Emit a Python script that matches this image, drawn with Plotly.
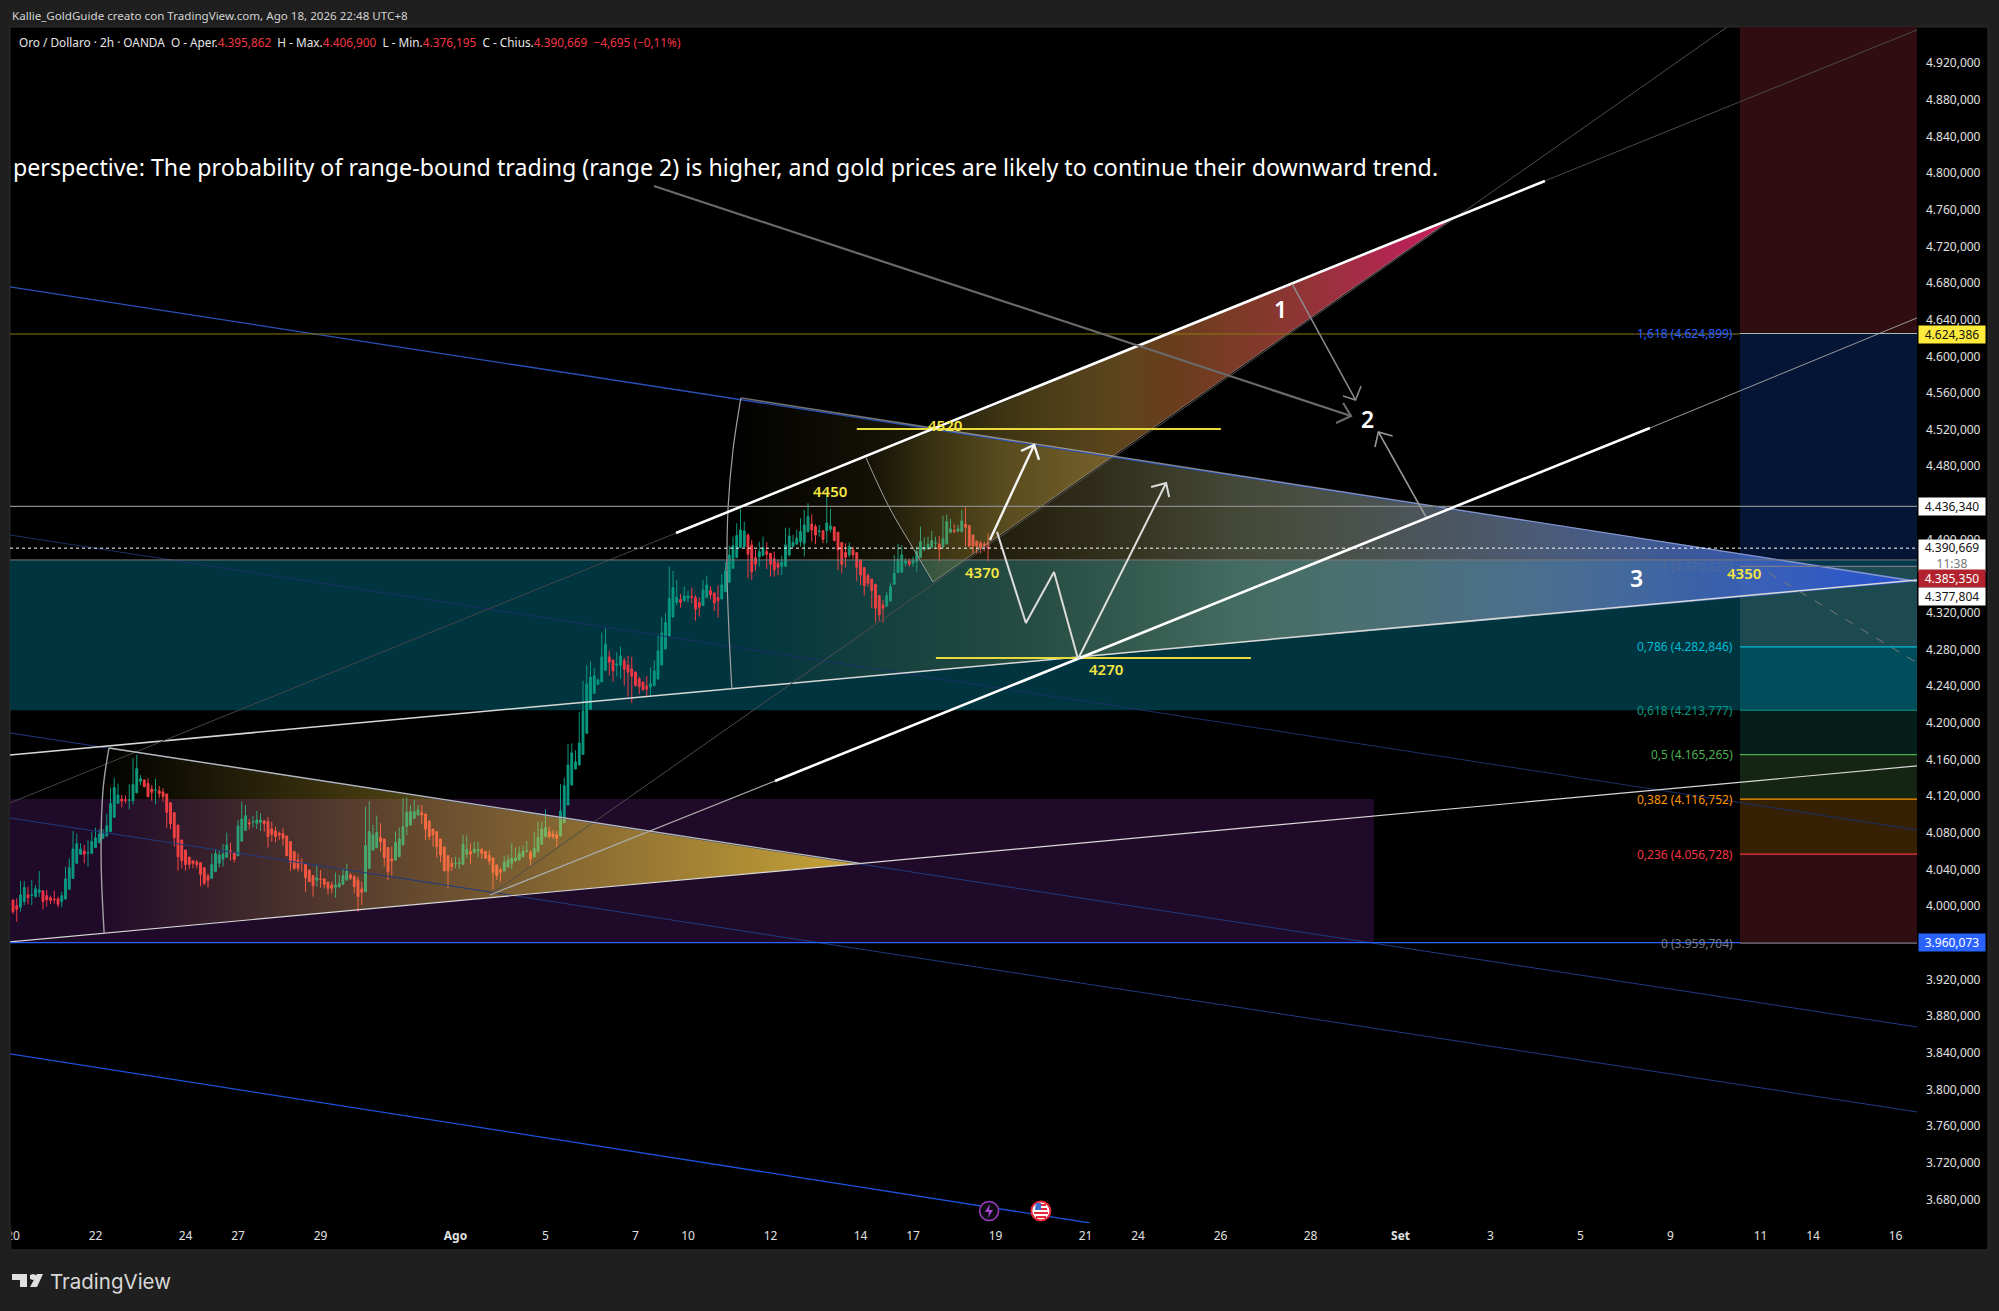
import plotly.graph_objects as go

# ---------- candle data (2h bars, prices) ----------
opens = [
4006.7,4000.5,3998.7,4004.9,4012.2,4011.8,4010.7,4015,4016.5,4011.4,
4009.2,4007.8,4007.8,4004.9,4007.8,4018.3,4030.3,4046.7,4056.5,4060.2,
4057.6,4057.6,4064,4069.3,4074,4076.5,4081.3,4096.9,4112.2,4116.9,
4116.2,4115.5,4115.1,4123.8,4136.2,4137.7,4134,4127.8,4126.4,4125.7,
4124.6,4122.4,4112.9,4102,4088.5,4072.2,4061.3,4053.6,4049.3,4048.2,
4047.4,4042,4032.9,4030.3,4037.6,4046.7,4051.4,4053.3,4060.5,4058.7,
4055,4071,4082.7,4091.1,4091.8,4090.4,4091.5,4092.9,4092.2,4084.2,
4082,4079.5,4079.1,4076.6,4070.4,4059.5,4050.4,4047.5,4045.7,4039.5,
4033.3,4028.2,4029.7,4029.7,4026,4023.1,4020.6,4021.3,4023.8,4028.6,
4034,4032.2,4028.6,4018.8,4015.8,4041.3,4061.3,4063.9,4074.8,4073.3,
4063.9,4051.5,4050.4,4054,4066.8,4086.8,4088.6,4095.9,4099.5,4102,
4100.6,4093,4084.2,4081.3,4073.3,4064.6,4055.1,4046.8,4046.4,4046.4,
4045.7,4056.6,4059.5,4058.4,4060.2,4061.7,4059.5,4055.8,4052.6,4045,
4039.5,4038.4,4042.8,4046.8,4049.3,4050.4,4054,4059.5,4058.4,4054,
4059.5,4067.5,4075.9,4081.3,4079,4077.7,4076.6,4091,4110.4,4132.3,
4149.7,4154,4165.7,4188.6,4214.8,4232.3,4242.1,4244.7,4257.4,4272,
4268.7,4262.9,4262.9,4267.9,4263.2,4258.9,4255.6,4248,4244.7,4240.3,
4239.2,4240.7,4248,4263.2,4280.7,4294.9,4315.6,4331.6,4334.5,4333.4,
4336,4337.8,4336.7,4331.3,4328,4337,4344.3,4341.8,4336.7,4335.3,
4343.2,4353.4,4368.7,4380.3,4391.3,4392,4405,4394.2,4380.3,4381,
4382.5,4386.9,4385,4379,4374.2,4370.9,4370.9,4383.3,4392.4,4395,
4397.8,4396,4408.7,4417,4414.2,4408.7,4409.5,4409.5,4411.3,4413.8,
4408,4396.7,4385.8,4383.3,4388.7,4385.8,4377.8,4369.5,4360.7,4357,
4351.3,4338.9,4328.7,4327.3,4333,4351.3,4364,4364.4,4374.2,4376.7,
4374.2,4376,4380.7,4389.5,4389.8,4391.6,4396,4395.3,4392,4395.3,
4408,4409.8,4409.5,4408.7,4416.7,4415.3,4405,4398.5,4396,4395,4395.9]
highs = [
4006.7,4008.5,4027.4,4027.4,4021.2,4028.5,4023,4038.3,4017.6,4017.6,
4011.4,4016.9,4010.3,4015.8,4043,4052,4082,4079,4068.5,4066.7,
4072,4081,4085.6,4084,4084,4100.6,4129.3,4140.2,4133.7,4121.3,
4120.6,4133,4161.3,4165,4143,4137.7,4139.5,4132.2,4138.8,4131.1,
4128.6,4122.4,4112.9,4102,4088.5,4072.2,4061.3,4053.6,4050.4,4050.4,
4047.4,4042,4035.8,4057.6,4062.4,4061.3,4067.8,4080.2,4069.3,4058.7,
4094,4114,4110.4,4095,4098.7,4103.8,4101.3,4094,4097.3,4092.2,
4086.8,4081.3,4085,4076.6,4070.4,4059.5,4057.7,4052.2,4045.7,4039.5,
4033.3,4045,4039.5,4029.7,4026,4026.7,4036.6,4034,4041.3,4046.4,
4036.2,4034,4032.2,4026.7,4108.6,4114.8,4088.6,4098.8,4090.4,4073.3,
4063.9,4065,4081.3,4085.7,4117.7,4118.4,4110.4,4116.2,4110.4,4110.4,
4100.6,4093,4084.2,4081.3,4073.3,4064.6,4055.1,4053,4054,4053,
4077.7,4077,4068.6,4070.4,4070.4,4063.9,4060.2,4061.3,4052.6,4045,
4042,4055,4055.8,4068.6,4063.9,4065,4066,4071,4061.3,4081.3,
4092.2,4092.2,4105.7,4086.8,4083,4082,4133,4140.3,4177,4177.7,
4170,4212,4245.8,4263,4266.9,4259.6,4248.7,4298.5,4303.2,4278.9,
4268.7,4277,4283.2,4271.2,4273.4,4272,4255.6,4250.5,4245,4251.2,
4260.3,4268,4296,4315.2,4319.2,4370.5,4365.8,4356,4340.7,4348.7,
4344,4347.6,4339.6,4336.7,4356,4360.7,4348.7,4341.8,4349.8,4362.5,
4375,4393.4,4403.3,4417.8,4433.5,4419.6,4406.9,4399.6,4388.7,4397.8,
4403.3,4397,4385,4387,4377.8,4382.5,4413,4413,4405,4410.6,
4423.3,4432.4,4439.7,4427.7,4416.7,4416,4410.6,4448,4433.5,4413.8,
4408.7,4396.7,4396,4397,4392.4,4385.8,4377.8,4369.5,4363,4357,
4351.3,4338.9,4334,4343,4352.4,4383.3,4395.3,4394,4379.6,4379.6,
4381.5,4392.4,4414.2,4402.6,4403.3,4409.5,4403.3,4404,4426.2,4427.7,
4422.6,4416.7,4416,4432.4,4435.3,4415.8,4405.5,4398.5,4398.5,4397.8,4406.9]
lows = [
3991.4,3983,3994,4001.2,4002,4000.9,4009,4010,3996.5,3999.4,
4002,4002.7,3998.7,3998.7,4007.4,4017.6,4029.6,4046,4055.8,4046.7,
4043,4057,4063.8,4068.5,4073,4075.8,4081.3,4096.5,4111.8,4107.8,
4112.2,4105.6,4111,4123,4132.2,4129.7,4118.7,4115,4111,4117.7,
4114,4085.6,4084,4064.9,4038.7,4041.3,4038.7,4040.5,4041.3,4041.3,
4021.6,4023,4020.2,4029.6,4037.6,4042,4043,4052.9,4049.6,4047.4,
4054.7,4070.4,4082,4083.5,4085.6,4084.2,4082,4081.3,4063.8,4070.4,
4069.7,4072.2,4066,4055,4038.4,4039.5,4037.7,4037.7,4015.8,4026.7,
4010.4,4021.3,4020.2,4019.5,4012.9,4014,4009.3,4019.5,4023,4027.5,
4028.6,4014,3994,4001.3,4015.8,4040.6,4060.6,4063.1,4059.5,4043.1,
4028.6,4033.3,4049.3,4053.3,4066,4077.7,4087.9,4095.1,4098.8,4089.3,
4072.2,4072.2,4065,4053,4047.8,4037.7,4019.5,4038.4,4041.3,4040.6,
4045.7,4052.2,4045.7,4057.7,4053,4051.5,4051.5,4045,4018.8,4028.6,
4026.7,4038,4042,4040.6,4048.6,4049.7,4053,4059,4044.2,4053,
4058.8,4066.8,4075,4074,4073.3,4063.9,4075.9,4091,4109.7,4131.5,
4149,4153.4,4165,4188,4214,4231.6,4241.8,4244.3,4256.7,4251.6,
4245,4250.5,4248,4240.7,4228.7,4222,4239.6,4231.2,4234.8,4228.7,
4229.8,4239.6,4247.2,4262.5,4280,4294,4314.9,4328,4325.8,4332.3,
4331.6,4330.5,4311.6,4316,4327.6,4336.7,4335,4322,4314.9,4335,
4342.8,4353,4368.7,4380.3,4390.5,4392,4357.8,4356,4366.2,4370.5,
4382,4368,4359.6,4359.6,4361.4,4361.4,4370.5,4381.5,4391.5,4394.9,
4392.4,4381.5,4408,4397.8,4395,4403.3,4396,4396,4408,4398.5,
4366.9,4363.3,4369.5,4380.4,4379,4355,4350.5,4339,4348.7,4325,
4309.4,4311.2,4309.4,4327,4332.4,4350.5,4363.3,4363.3,4370.5,4370.5,
4370.5,4365,4380.3,4387,4388.7,4390.5,4391,4376,4391,4394.9,
4407,4407,4408,4407.6,4392.4,4391,4385,4384.4,4385,4387,4376.2]
closes = [
3994,3996.5,4012.2,4020.2,4009.2,4012.2,4019,4017.6,4004.9,4007,
4006.3,4007,4002,4011.4,4029.6,4042,4062.4,4068.2,4062.4,4056.5,
4058.4,4070.4,4074.4,4078.7,4078.7,4087.8,4111.8,4129.3,4121.3,4114.7,
4115.5,4115.8,4132.6,4150,4139.1,4130.4,4119.5,4124.2,4126.7,4123.1,
4119.5,4102.4,4090,4074.7,4054,4049.6,4045.3,4045.6,4046.7,4045.3,
4034.7,4024.9,4028.2,4045.3,4057.3,4055.8,4056.9,4066.7,4058.7,4051,
4087.5,4095,4098.7,4089.6,4092.2,4094,4094,4090,4075.8,4078.4,
4075.9,4077.7,4074,4055,4047.8,4041.3,4041.3,4046.8,4031,4026.7,
4022.4,4030.8,4029.3,4023.8,4019.5,4019.5,4023.1,4025,4033.3,4038.4,
4030.4,4021.3,4010.4,4015.1,4066,4081.3,4077.7,4080.2,4070.4,4053,
4037.7,4049.3,4069.3,4073.3,4086.8,4102,4103.1,4103.1,4105,4099.5,
4083.9,4075.9,4077.7,4065,4055.8,4038.8,4038.4,4043.1,4046.8,4047.1,
4067.5,4062,4056.6,4062,4061.7,4057.7,4052.2,4049.3,4036.9,4033.3,
4036.9,4047.8,4050.4,4052.2,4052.6,4057.7,4060.2,4060.2,4051.5,4063.1,
4075.1,4084.2,4085.7,4075.9,4075.9,4074,4103.9,4131.5,4154,4167.2,
4157.4,4178,4213,4242.5,4250,4251.2,4246.9,4272,4286.1,4266.1,
4256.7,4264.3,4273,4258.5,4255.2,4250.9,4240.7,4239.6,4236.3,4236.7,
4242.8,4256.7,4278.5,4298.1,4309.4,4335.6,4347.6,4337,4331.6,4338.5,
4338.5,4337,4324,4326.2,4345,4350.5,4339.6,4330.9,4333.4,4350.5,
4365.8,4383.2,4393.4,4404.4,4410.5,4409.4,4384,4365,4373,4386.9,
4391.3,4384,4373,4366.9,4369.8,4375.2,4394.2,4404,4396.7,4401.5,
4408.7,4416,4425.1,4410.6,4405,4409.5,4400.4,4418.2,4414.9,4398.9,
4388.7,4373,4380.7,4392.4,4383.3,4369.8,4361.4,4349.8,4352.3,4344.4,
4325,4317.8,4325,4338.9,4348.7,4363.3,4378.5,4383.3,4376.7,4373,
4377.8,4387,4397.8,4391.3,4395,4399,4396.7,4389.5,4400.7,4419.7,
4411.7,4409,4411.7,4420.4,4413.5,4393,4393,4393,4391.3,4393.5,4390.7]
bars = list(range(len(closes)))

# ---------- axes ----------
x_tick_bars = [0,22,46,60,82,118,142,166,180,202,226,240,262,286,300,322,346,370,394,418,442,466,480,502]
x_tick_text = ["20","22","24","27","29","<b>Ago</b>","5","7","10","12","14","17","19","21","24","26","28","<b>Set</b>","3","5","9","11","14","16"]
# 4360 is entirely covered by the price tags in the reference, so it is not drawn
y_ticks = [v for v in range(3680, 4921, 40) if v != 4360]
y_tick_text = [f"{v//1000}.{v%1000:03d},000" for v in y_ticks]
X_MIN, X_MAX = -0.8, 507.73
Y_MIN, Y_MAX = 3654.2, 4959.4

# ---------- Fibonacci levels ----------
fib_ratio = ["1,618","1","0,786","0,618","0,5","0,382","0,236","0"]
fib_price = [4624.899,4370.826,4282.846,4213.777,4165.265,4116.752,4056.728,3959.704]
fib_label_color = ["#2962ff","rgba(120,123,134,0.35)","#00bcd4","#089981","#4caf50","#ff9800","#f23645","#787b86"]
fib_line_color = ["#9fc0b8","#787b86","#00bcd4","#089981","#4caf50","#ff9800","#f23645","#787b86"]
fib_band_color = ["#051535","#1c4a50","#004d5b","#061e1a","#142613","#362003","#300d10"]
FIB_X0 = 460.5

# ---------- drawings: bar index / price ----------
blue_lines = [
    ([-0.8,507.73],[4675.7,4354.8],"#2a50b8",1.3),
    ([-0.8,507.73],[4405.0,4083.1],"#1a3068",1),
    ([-0.8,507.73],[4189.0,3868.1],"#1e3a80",1),
    ([-0.8,507.73],[4096.2,3775.4],"#1e3a80",1),
    ([-0.8,287.2],[3838.7,3654.2],"#1c50d8",1.3),
]
small_tri_x = [25.6,24,23.5,24.3,225.9]
small_tri_y = [4172.6,4126.8,4050.4,3970.7,4046.6]
big_tri_x = [194.1,192,190.7,190.4,190.9,191.7,507.73]
big_tri_y = [4554.6,4497.8,4435.6,4366.9,4301.4,4237,4354.3]
wedge_x = [227.5,233.6,240.3,245.3,383.2]
wedge_y = [4489.1,4435.6,4388.7,4353.8,4748.8]

thin_lines = [
    ([-0.8,507.73],[3960.9,4153],"#d8d8d8",1.2),
    ([-0.8,507.73],[4165,4355.9],"#d8d8d8",1.5),
    ([-0.8,176.8],[4112.6,4407.2],"#444444",1),
    ([408.5,507.73],[4791.4,4956.2],"#4a4a4a",1),
    ([127.2,457.1],[4012.2,4959.4],"#4d4d4d",1),
    ([127.2,203.2],[4012.2,4136.6],"#aaaaaa",1.2),
    ([436.5,507.73],[4521.8,4641.9],"#9a9a9a",1),
    ([25.6,225.9],[4172.6,4046.6],"#b8b8b8",1.4),
    ([194.1,507.73],[4554.6,4354.3],"rgba(210,210,210,0.55)",1.4),
    ([245.3,383.2],[4353.8,4748.8],"rgba(210,200,190,0.45)",1),
]
arc_lines = [
    (small_tri_x[:4],small_tri_y[:4],"#a0a0a0",1.4),
    (big_tri_x[:6],big_tri_y[:6],"#a0a0a0",1.2),
    (wedge_x[:4],wedge_y[:4],"#a0a0a0",1),
]
thick_lines = [
    ([176.8,408.5],[4407.2,4791.4],"#ffffff",2.6),
    ([203.2,436.5],[4136.6,4521.8],"#ffffff",2.6),
]
arrows = [
    ([260.5,272.3],[4399.6,4503.3],[268.8,272.3,273.6],[4496.7,4503.3,4486.9],"#f4f4f4",2.4),
    ([262.4,270.1,277.6,284,307.5],[4408.4,4309,4364.7,4269.7,4461.8],[303.5,307.5,308.3],[4457.4,4461.8,4446.5],"#dcdcdc",2),
    ([170.9,356.8],[4785.9,4534.9],[354.7,356.8,352.8],[4549.1,4534.9,4527.3],"#6a6a6a",2.2),
    ([341.1,358],[4679,4552.4],[354.7,358,359.5],[4556.7,4552.4,4567.7],"#8c8c8c",1.5),
    ([376.8,364.1],[4424.7,4517.5],[367.9,364.1,363.2],[4513.1,4517.5,4501.1],"#9a9a9a",1.6),
]
yellow_levels = [([225,322.1],4520.7),([246.1,330.1],4270.8)]
yellow_labels = [("4450",217.9,4453.1),("4520",248.5,4525.1),("4370",258.4,4364.7),("4270",291.5,4258.8),("4350",461.6,4363.6)]
white_labels = [("1",337.9,4651.7),("2",361.1,4531.6),("3",433,4358.1)]

# ---------- page geometry ----------
W, H = 1999, 1311
L, R, T, B = 10, 1917, 27, 1223
def px(x): return (x - L) / (R - L)
def py(y): return (B - y) / (B - T)

fig = go.Figure()

def line(xs, ys, color, width, dash=None, shape="linear"):
    fig.add_trace(go.Scatter(x=xs, y=ys, mode="lines", hoverinfo="skip",
                             line=dict(color=color, width=width, dash=dash, shape=shape)))

def poly(xs, ys, stops):
    fig.add_trace(go.Scatter(x=xs, y=ys, mode="lines", fill="toself", hoverinfo="skip",
                             line=dict(width=0, color="rgba(0,0,0,0)"),
                             fillgradient=dict(type="horizontal", colorscale=stops)))

shapes = []
def rect(x0, x1, y0, y1, color):
    shapes.append(dict(type="rect", xref="x", yref="y", x0=x0, x1=x1, y0=y0, y1=y1,
                       fillcolor=color, line_width=0, layer="below"))

# pane behind everything, also under the axes
shapes.append(dict(type="rect", xref="paper", yref="paper", x0=0, x1=px(1988), y0=py(1250), y1=1,
                   fillcolor="#000000", line=dict(color="#2e2e2e", width=1), layer="below"))
rect(X_MIN, 362.9, 3960, 4117, "#200a29")
rect(X_MIN, FIB_X0, 4213.8, 4377.8, "#00343f")
rect(FIB_X0, X_MAX, 4624.9, Y_MAX, "#300d10")
rect(FIB_X0, X_MAX, 4377.8, 4624.9, "#051535")
rect(FIB_X0, X_MAX, 4370.8, 4377.8, "#04384f")
for i, col in enumerate(fib_band_color[1:], start=1):
    rect(FIB_X0, X_MAX, fib_price[i+1], fib_price[i], col)

poly(big_tri_x, big_tri_y, [
    [0,"rgba(170,150,50,0)"],[0.12,"rgba(175,155,55,0.11)"],[0.25,"rgba(190,170,80,0.2)"],[0.42,"rgba(210,222,165,0.32)"],
    [0.6,"rgba(150,170,190,0.5)"],[0.8,"rgba(75,110,190,0.8)"],[1,"rgba(36,80,210,1)"]])
poly(small_tri_x, small_tri_y, [[0,"rgba(255,215,60,0)"],[1,"rgba(255,215,60,0.75)"]])
poly(wedge_x, wedge_y, [
    [0,"rgba(200,170,50,0)"],[0.11,"rgba(210,180,60,0.16)"],[0.23,"rgba(220,185,70,0.28)"],
    [0.43,"rgba(200,150,60,0.46)"],[0.52,"rgba(190,110,50,0.55)"],[0.74,"rgba(190,70,70,0.75)"],
    [0.91,"rgba(195,40,90,0.92)"],[1,"rgba(200,28,90,1)"]])

fig.add_trace(go.Candlestick(x=bars, open=opens, high=highs, low=lows, close=closes,
    whiskerwidth=0, hoverinfo="skip",
    increasing=dict(line=dict(color="#089981", width=1), fillcolor="#089981"),
    decreasing=dict(line=dict(color="#f23645", width=1), fillcolor="#f23645")))

for xs, ys, c, w in blue_lines + thin_lines:
    line(xs, ys, c, w)
for xs, ys, c, w in arc_lines:
    line(xs, ys, c, w, shape="spline")
# price levels
line([X_MIN, FIB_X0],[4624.386,4624.386],"#8a7a12",1)
line([X_MIN, X_MAX],[4436.34,4436.34],"#8a8a8a",1.2)
line([X_MIN, X_MAX],[4377.804,4377.804],"#7a7a7a",1)
line([X_MIN, X_MAX],[4390.669,4390.669],"#ffffff",1,"dot")
line([X_MIN, FIB_X0],[3960.073,3960.073],"#2962ff",1.2)
line([468.1,507.73],[4364,4265.5],"#777777",1,"dash")
for i, c in enumerate(fib_line_color):
    line([FIB_X0, X_MAX],[fib_price[i],fib_price[i]],c,1.2)
for xs, y in yellow_levels:
    line(xs,[y,y],"#e8dc3c",2)
for xs, ys, c, w in thick_lines:
    line(xs, ys, c, w)
for xs, ys, hx, hy, c, w in arrows:
    line(xs, ys, c, w)
    line(hx, hy, c, w)

# event icons sitting on the axis
fig.add_trace(go.Scatter(x=[260.3], y=[3667.3], mode="markers", hoverinfo="skip",
    marker=dict(size=19, color="#0c0c12", line=dict(color="#9c3bc0", width=1.6))))
fig.add_trace(go.Scatter(x=[274.1], y=[3667.3], mode="markers", hoverinfo="skip",
    marker=dict(size=19, color="#ffffff", line=dict(color="#e8263a", width=2))))

def ppath(points, color):
    d = "M " + " L ".join(f"{px(a):.5f} {py(b):.5f}" for a, b in points) + " Z"
    shapes.append(dict(type="path", xref="paper", yref="paper", path=d, fillcolor=color, line_width=0, layer="above"))

ppath([(990,1204),(985,1212),(989,1212),(988,1218),(993,1210),(989,1210)], "#a845d0")
ppath([(1036,1203),(1041,1203),(1041,1210),(1035,1210)], "#3a6fd0")
ppath([(1041,1204),(1046,1204),(1046,1206),(1041,1206)], "#e8263a")
ppath([(1041,1208),(1047,1208),(1047,1210),(1041,1210)], "#e8263a")
ppath([(1034,1212),(1048,1212),(1048,1214),(1034,1214)], "#e8263a")
ppath([(1036,1216),(1046,1216),(1046,1218),(1036,1218)], "#e8263a")
# TradingView logotype
ppath([(12,1274),(27,1274),(27,1287),(20,1287),(20,1280),(12,1280)], "#e0e0e0")
ppath([(30,1275),(33,1274),(36,1275),(36,1279),(33,1280),(30,1279)], "#e0e0e0")
ppath([(37,1274),(43,1274),(37,1287),(30,1287)], "#e0e0e0")

FONT = "Noto Sans"
notes = []
def note(x, y, text, size, color, anchor="left", family=FONT, **kw):
    notes.append(dict(xref="paper", yref="paper", x=px(x), y=py(y), text=text, showarrow=False,
                      xanchor=anchor, yanchor="middle", font=dict(family=family, size=size, color=color), **kw))

RED = "#f23645"
# hides the left part of the first date, as the pane edge does in the reference
notes.append(dict(xref="paper", yref="paper", x=px(0), y=py(1238), text=" ", showarrow=False,
                  xanchor="left", yanchor="middle", width=10, height=24, bgcolor="#1f1f1f", borderpad=0))
note(10, 15, "Kallie_GoldGuide creato con TradingView.com, Ago 18, 2026 22:48 UTC+8", 11.6, "#d4d4d4")
note(17, 42, f"Oro / Dollaro · 2h · OANDA&nbsp; O - Aper.<span style='color:{RED}'>4.395,862</span>&nbsp; "
     f"H - Max.<span style='color:{RED}'>4.406,900</span>&nbsp; L - Min.<span style='color:{RED}'>4.376,195</span>&nbsp; "
     f"C - Chius.<span style='color:{RED}'>4.390,669&nbsp; −4,695 (−0,11%)</span>", 11.8, "#e6e6e6")
note(11, 167, "perspective: The probability of range-bound trading (range 2) is higher, and gold prices are likely to continue their downward trend.", 23.2, "#ffffff")
note(48, 1281, "TradingView", 20.5, "#d8d8d8", family="Inter")

for label, x, y in yellow_labels:
    notes.append(dict(x=x, y=y, text=label, showarrow=False, font=dict(family=FONT, size=15, color="#f5e642", weight=600)))
for label, x, y in white_labels:
    notes.append(dict(x=x, y=y, text=label, showarrow=False, font=dict(family=FONT, size=23, color="#ffffff", weight=600)))
for r, p, c in zip(fib_ratio, fib_price, fib_label_color):
    txt = f"{r} ({int(p)//1000}.{int(p)%1000:03d},{round((p-int(p))*1000):03d})"
    notes.append(dict(x=459.1, y=p, text=txt, showarrow=False, xanchor="right",
                      font=dict(family=FONT, size=12, color=c)))

# price tags on the axis
tag_text = ["4.624,386","4.436,340","4.390,669<br><span style='color:#777'>11:38</span>","4.385,350","4.377,804","3.960,073"]
tag_bg = ["#ffeb3b","#ffffff","#ffffff","#b2232f","#ffffff","#2962ff"]
tag_fg = ["#131313","#131313","#131313","#ffffff","#131313","#ffffff"]
tag_y = [334,506,555,578,596,943]
tag_h = [17,17,31,17,17,17]
for t, bg, fg, y, h in zip(tag_text, tag_bg, tag_fg, tag_y, tag_h):
    notes.append(dict(xref="paper", yref="paper", x=px(1918), y=py(y), text=t, showarrow=False,
                      xanchor="left", yanchor="middle", width=66, height=h, align="center", valign="middle",
                      bgcolor=bg, borderpad=0, font=dict(family=FONT, size=12, color=fg)))

fig.update_layout(
    width=W, height=H, autosize=False,
    margin=dict(l=L, r=W-R, t=T, b=H-B, pad=0, autoexpand=False),
    paper_bgcolor="#1f1f1f", plot_bgcolor="#000000",
    showlegend=False, shapes=shapes, annotations=notes,
    xaxis=dict(range=[X_MIN, X_MAX], tickmode="array", tickvals=x_tick_bars, ticktext=x_tick_text,
               automargin=False, showgrid=False, zeroline=False, showline=False, ticks="", ticklabelstandoff=4,
               rangeslider=dict(visible=False),
               tickfont=dict(family=FONT, size=12, color="#e0e0e0"), tickangle=0),
    yaxis=dict(range=[Y_MIN, Y_MAX], side="right", tickmode="array", tickvals=y_ticks, ticktext=y_tick_text,
               automargin=False, showgrid=False, zeroline=False, showline=False, ticks="", ticklabelstandoff=8,
               tickfont=dict(family=FONT, size=12, color="#e0e0e0")),
)
fig.write_html("out.html", config={"displayModeBar": False},
               post_script="document.body.style.margin='0';document.body.style.background='#1f1f1f';")
